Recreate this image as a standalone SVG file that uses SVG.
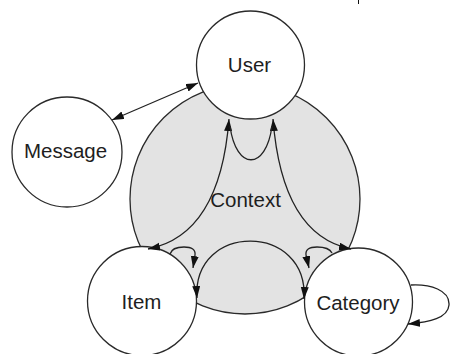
<svg xmlns="http://www.w3.org/2000/svg" width="450" height="354" viewBox="0 0 450 354">
  <style>
    .node { fill: #ffffff; stroke: #2a2a2a; stroke-width: 1.3; }
    .ctx { fill: #e3e3e3; stroke: #2a2a2a; stroke-width: 1.3; }
    .lbl { font-family: "Liberation Sans", Arial, sans-serif; font-size: 20.5px; fill: #1e1e1e; text-anchor: middle; }
    .edge { fill: none; stroke: #222222; stroke-width: 1.3; }
  </style>
  <defs>
    <marker id="arr" markerUnits="userSpaceOnUse" markerWidth="13" markerHeight="9" refX="12" refY="4" orient="auto-start-reverse">
      <path d="M0,0 L12,4 L0,8 z" fill="#111111"/>
    </marker>
  </defs>
  <rect width="450" height="354" fill="#ffffff"/>
  <line x1="358.5" y1="0" x2="358.5" y2="4" stroke="#111111" stroke-width="1"/>

  <g id="context">
    <circle class="ctx" cx="245" cy="199" r="115"/>
    <text class="lbl" x="245.5" y="207">Context</text>
  </g>
  <g id="user">
    <circle class="node" cx="250.5" cy="65" r="54"/>
    <text class="lbl" x="249.5" y="72">User</text>
  </g>
  <g id="message">
    <circle class="node" cx="67" cy="152" r="55"/>
    <text class="lbl" x="65.5" y="158">Message</text>
  </g>
  <g id="item">
    <circle class="node" cx="142" cy="301" r="54.5"/>
    <text class="lbl" x="141.5" y="309">Item</text>
  </g>
  <g id="category">
    <circle class="node" cx="358.5" cy="302" r="54"/>
    <text class="lbl" x="358" y="310">Category</text>
  </g>

  <g id="connectors">
    <line class="edge" x1="112" y1="120" x2="198" y2="83" marker-start="url(#arr)" marker-end="url(#arr)"/>
    <path class="edge" d="M229,119 Q220,235 148,249" marker-start="url(#arr)" marker-end="url(#arr)"/>
    <path class="edge" d="M273,119 Q282,235 351,249" marker-start="url(#arr)" marker-end="url(#arr)"/>
    <path class="edge" d="M230,126 C236,171 266,171 272,126"/>
    <path class="edge" d="M197,298 C192,222 309,222 304,299" marker-start="url(#arr)" marker-end="url(#arr)"/>
    <path class="edge" d="M170,254 Q172,247 184,247 Q196,247 195,255 L193,268" marker-end="url(#arr)"/>
    <path class="edge" d="M332,253 Q329,247 317,247 Q305,247 306,255 L309,268" marker-end="url(#arr)"/>
    <path class="edge" d="M411,285 C430,284 450,290 449,305 C448,318 430,322 408,324" marker-end="url(#arr)"/>
  </g>
</svg>
